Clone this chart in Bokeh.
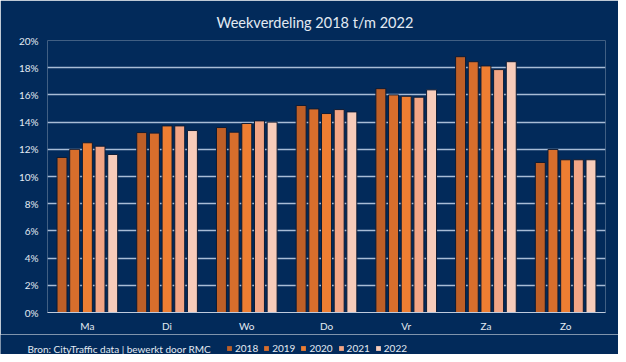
import re
from bokeh.plotting import figure
from bokeh.models import (ColumnDataSource, Legend, LegendItem, NumeralTickFormatter,
                          FixedTicker, Label, Range1d)
from bokeh.layouts import column
from bokeh.transform import dodge
from bokeh.embed import file_html
from bokeh.resources import INLINE

days = ["Ma", "Di", "Wo", "Do", "Vr", "Za", "Zo"]
years = ["2018", "2019", "2020", "2021", "2022"]
v2018 = [0.114, 0.1323, 0.136, 0.1522, 0.1646, 0.1881, 0.1103]
v2019 = [0.120, 0.1319, 0.1326, 0.1497, 0.1600, 0.1844, 0.1199]
v2020 = [0.1248, 0.1372, 0.139, 0.1463, 0.1590, 0.1813, 0.1123]
v2021 = [0.1223, 0.1372, 0.1409, 0.1492, 0.1583, 0.1786, 0.1123]
v2022 = [0.1162, 0.1338, 0.140, 0.1475, 0.1637, 0.1844, 0.1123]
yticks = [0, 0.02, 0.04, 0.06, 0.08, 0.10, 0.12, 0.14, 0.16, 0.18, 0.20]
colors = ["#BE5F27", "#D86E2C", "#EE7E32", "#F2A585", "#F7CCBA"]
title_text = "Weekverdeling 2018 t/m 2022"
footer_text = "Bron: CityTraffic data | bewerkt door RMC"

bg = "#022A5A"
txt = "#E3EAF3"
font = "Lato"

source = ColumnDataSource(data=dict(days=days, v2018=v2018, v2019=v2019,
                                    v2020=v2020, v2021=v2021, v2022=v2022))

p = figure(x_range=days, y_range=(0, 0.2), width=618, height=334,
           output_backend="svg", toolbar_location=None, frame_align=False,
           min_border_left=47, min_border_right=13, min_border_top=40, min_border_bottom=21,
           background_fill_color=bg, border_fill_color=bg, outline_line_color=None)

p.title.text = title_text
p.title.align = "left"
p.title.offset = 169
p.title.standoff = 19
p.title.text_color = txt
p.title.text_font = font
p.title.text_font_size = "14.5px"
p.title.text_font_style = "normal"

offsets = [-0.318, -0.159, 0.0, 0.159, 0.318]
cols = ["v2018", "v2019", "v2020", "v2021", "v2022"]
for col, off, c in zip(cols, offsets, colors):
    p.vbar(x=dodge("days", off, range=p.x_range), top=col, width=0.125, bottom=0,
           source=source, fill_color=c, line_color="#0E1B33", line_width=1)

p.xgrid.grid_line_color = None
p.ygrid.grid_line_color = "#A8BCD6"
p.ygrid.grid_line_width = 1.6
p.yaxis.ticker = FixedTicker(ticks=yticks)
p.yaxis.formatter = NumeralTickFormatter(format="0%")
p.yaxis.axis_line_color = None
p.yaxis.major_tick_line_color = None
p.yaxis.minor_tick_line_color = None
p.yaxis.major_tick_out = 0
p.yaxis.major_label_standoff = 9
p.xaxis.axis_line_color = "#BFCBDD"
p.xaxis.axis_line_width = 1
p.xaxis.major_tick_line_color = None
p.xaxis.minor_tick_line_color = None
p.xaxis.major_tick_out = 0
p.xaxis.major_label_standoff = 7
for ax in (p.xaxis, p.yaxis):
    ax.major_label_text_color = txt
    ax.major_label_text_font = font
    ax.major_label_text_font_size = "10px"

# footer strip with source note and legend
p2 = figure(width=618, height=20, x_range=p.x_range, y_range=Range1d(0, 1),
            output_backend="svg", toolbar_location=None, frame_align=False,
            x_axis_type=None, y_axis_type=None,
            min_border_left=0, min_border_right=0, min_border_top=0, min_border_bottom=0,
            background_fill_color=bg, border_fill_color=bg, outline_line_color=None)
p2.xgrid.visible = False
p2.ygrid.visible = False

legend_renderers = []
for col, off, c in zip(cols, offsets, colors):
    r = p2.vbar(x=dodge("days", off, range=p2.x_range), top=col, width=0.125, bottom=0,
                source=source, fill_color=c, line_color=None, visible=False)
    legend_renderers.append(r)

p2.add_layout(Label(x=27, y=6, x_units="screen", y_units="screen", text=footer_text,
                    text_color=txt, text_font=font, text_font_size="10px",
                    text_baseline="middle", text_align="left"))

legend = Legend(items=[LegendItem(label=y, renderers=[r]) for y, r in zip(years, legend_renderers)],
                orientation="horizontal", location=(226, 0),
                background_fill_alpha=0, border_line_color=None, inactive_fill_alpha=0,
                padding=0, margin=0, spacing=5, glyph_width=6, glyph_height=6,
                label_standoff=3, label_width=22,
                label_text_color=txt, label_text_font=font, label_text_font_size="10px")
p2.add_layout(legend, "center")

layout = column(p, p2, spacing=0)
html = file_html(layout, INLINE)
html = re.sub(r"<body([^>]*)>", r'<body\1 style="background-color:#022A5A;">', html, count=1)
open("out.html", "w").write(html)
